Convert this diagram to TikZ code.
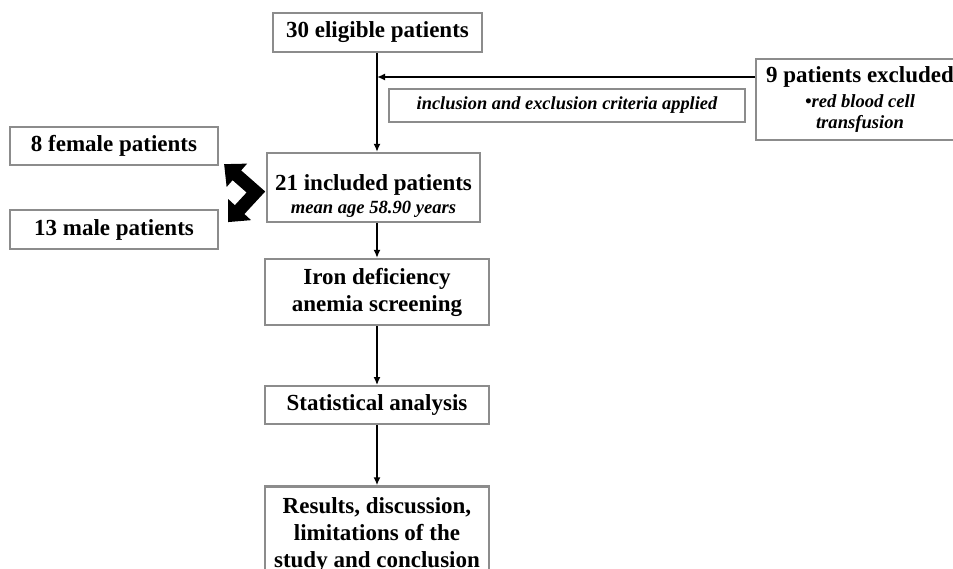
\documentclass[tikz,border=0pt]{standalone}
\usepackage{fontspec}
\setmainfont{Liberation Serif}
\usetikzlibrary{arrows.meta,positioning}
\newcommand{\smallit}{\itshape\fontsize{9.3}{11}\selectfont}

\begin{document}
\begin{tikzpicture}[
  x=0.5pt, y=-0.5pt,
  line width=0.8pt,
  box/.style={draw=black!45, line width=1.1pt, fill=white, align=center, inner sep=0pt, font=\bfseries\fontsize{11.5}{13.5}\selectfont},
  note/.style={box, font=\bfseries\itshape\fontsize{9.2}{11}\selectfont},
  fat/.style={line width=6.5pt, line join=miter, {Triangle[width=15pt,length=8.5pt]}-{Triangle[width=15pt,length=8.5pt]}},
  >={Latex[length=4pt,width=3.5pt]}
]
\useasboundingbox (0,0) rectangle (953,568);
\clip (0,0) rectangle (953,568);
\node[box, minimum width=104.5pt, minimum height=19.5pt] (elig) at (377.5,32.5) {30 eligible patients};
\node[note, minimum width=178pt, minimum height=16.5pt] (crit) at (567,105.5) {inclusion and exclusion criteria applied};
\node[box, minimum width=104pt, minimum height=40.5pt] (excl) at (860,99.5) {9 patients excluded\\[-1pt]{\smallit •red blood cell}\\[-3pt]{\smallit transfusion}};
\node[box, minimum width=106.5pt, minimum height=34.5pt, text height=28.5pt] (incl) at (373.5,187.5) {21 included patients\\[-2pt]{\smallit mean age 58.90 years}};
\node[box, minimum width=104pt, minimum height=19pt] (female) at (114,146) {8 female patients};
\node[box, minimum width=104pt, minimum height=19.5pt, below=21.5pt of female] (male) {13 male patients};
\node[box, minimum width=112pt, minimum height=33pt] (iron) at (377,292) {Iron deficiency\\anemia screening};
\node[box, minimum width=112pt, minimum height=19pt, below=29.5pt of iron] (stat) {Statistical analysis};
\node[box, minimum width=112pt, minimum height=48.5pt, below=30pt of stat] (res) {Results, discussion,\\limitations of the\\study and conclusion};
\coordinate (split) at (377,77);
\draw[->] (elig.south -| split) -- (split |- incl.north);
\draw[->] (excl.west |- split) -- (split);
\draw[->] (iron.north |- incl.south) -- (iron.north);
\draw[->] (iron) -- (stat);
\draw[->] (stat) -- (res);
\draw[fat] ([shift={(5,-2)}]female.south east) -- ([shift={(-10,4.5)}]incl.west) -- ([shift={(9,13)}]male.north east);
\end{tikzpicture}
\end{document}
